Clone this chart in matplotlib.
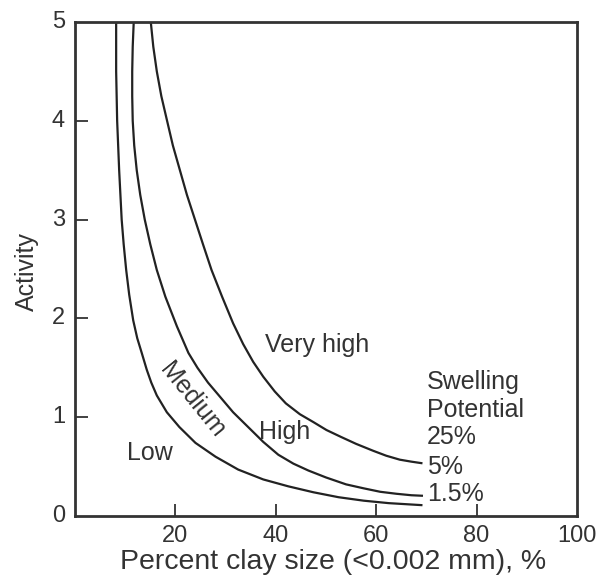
import matplotlib
matplotlib.use("Agg")
import matplotlib.pyplot as plt

plt.rcParams['font.family'] = ['Liberation Sans', 'DejaVu Sans']

# Curve data (percent clay, activity)
clay_25 = [15.1, 15.6, 16.3, 17.2, 18.3, 19.5, 20.9, 22.3, 23.9, 25.5, 27.2, 29.3, 31.5, 33.5, 35.5,
           37.5, 39.8, 42.0, 44.8, 47.5, 50.1, 53.0, 56.0, 59.4, 62.0, 64.7, 67.0, 69.0]
act_25 = [5.0, 4.75, 4.5, 4.25, 4.01, 3.75, 3.5, 3.25, 3.0, 2.75, 2.49, 2.22, 1.95, 1.74, 1.56,
          1.41, 1.26, 1.14, 1.03, 0.95, 0.87, 0.8, 0.73, 0.66, 0.61, 0.57, 0.55, 0.535]

clay_5 = [11.7, 11.5, 11.4, 11.4, 11.5, 11.8, 12.3, 13.0, 13.9, 15.0, 16.3, 18.0, 20.3, 22.6, 24.4,
          26.5, 29.0, 31.5, 34.5, 37.5, 40.5, 43.5, 46.5, 50.0, 54.0, 57.5, 60.8, 64.0, 67.0, 69.1]
act_5 = [5.0, 4.75, 4.5, 4.25, 4.0, 3.75, 3.5, 3.25, 3.0, 2.75, 2.49, 2.22, 1.92, 1.65, 1.5,
         1.35, 1.2, 1.05, 0.9, 0.75, 0.62, 0.53, 0.46, 0.39, 0.32, 0.28, 0.245, 0.225, 0.21, 0.205]

clay_15 = [8.2, 8.2, 8.4, 8.8, 9.3, 9.7, 10.2, 10.8, 11.6, 12.4, 13.3, 14.3, 15.2, 16.3, 18.3,
           20.8, 24.0, 28.0, 32.5, 37.5, 42.5, 47.5, 52.5, 57.5, 62.5, 69.0]
act_15 = [5.0, 4.5, 4.0, 3.5, 3.0, 2.75, 2.49, 2.24, 1.98, 1.8, 1.65, 1.48, 1.35, 1.22, 1.05,
          0.9, 0.74, 0.6, 0.47, 0.37, 0.3, 0.24, 0.19, 0.155, 0.13, 0.11]

x_ticks = [20, 40, 60, 80]
x_label_vals = [20, 40, 60, 80, 100]
x_labels = ["20", "40", "60", "80", "100"]
y_ticks = [1, 2, 3, 4]
y_label_vals = [0, 1, 2, 3, 4, 5]
y_labels = ["0", "1", "2", "3", "4", "5"]

line_color = "#222222"
spine_color = "#333333"
text_color = "#333333"

fig = plt.figure(figsize=(5.97, 5.81), dpi=100)
ax = fig.add_axes([0.1256, 0.1119, 0.8409, 0.8502])

for cx, cy in [(clay_25, act_25), (clay_5, act_5), (clay_15, act_15)]:
    ax.plot(cx, cy, color=line_color, lw=1.6, solid_joinstyle='round')

ax.set_xlim(0, 100)
ax.set_ylim(0, 5)

for s in ax.spines.values():
    s.set_linewidth(2.0)
    s.set_color(spine_color)

ax.set_xticks(x_ticks)
ax.set_xticklabels([])
ax.set_yticks(y_ticks)
ax.set_yticklabels([])
ax.tick_params(direction='in', length=9, width=1.3, color=spine_color)

for v, lab in zip(x_label_vals, x_labels):
    ax.text(v, -0.09, lab, ha='center', va='top', fontsize=17, color=text_color)
for v, lab in zip(y_label_vals, y_labels):
    ax.text(-2.0, v, lab, ha='right', va='center', fontsize=17, color=text_color)

ax.text(51.5, -0.47, "Percent clay size (<0.002 mm), %", ha='center', va='center', fontsize=20.5, color=text_color)
ax.text(-9.5, 2.47, "Activity", ha='center', va='center', rotation=90, fontsize=18, color=text_color)

ax.text(48.2, 1.73, "Very high", ha='center', va='center', fontsize=18, color=text_color)
ax.text(41.8, 0.85, "High", ha='center', va='center', fontsize=18, color=text_color)
ax.text(15.0, 0.64, "Low", ha='center', va='center', fontsize=18, color=text_color)
ax.text(23.3, 1.17, "Medium", ha='center', va='center', rotation=-51, fontsize=18, color=text_color,
        rotation_mode='anchor')

ax.text(70.1, 1.36, "Swelling", ha='left', va='center', fontsize=18, color=text_color)
ax.text(70.1, 1.07, "Potential", ha='left', va='center', fontsize=18, color=text_color)
ax.text(70.1, 0.80, "25%", ha='left', va='center', fontsize=18, color=text_color)
ax.text(70.1, 0.50, "5%", ha='left', va='center', fontsize=18, color=text_color)
ax.text(70.1, 0.22, "1.5%", ha='left', va='center', fontsize=18, color=text_color)

fig.savefig("out.png", dpi=100)
